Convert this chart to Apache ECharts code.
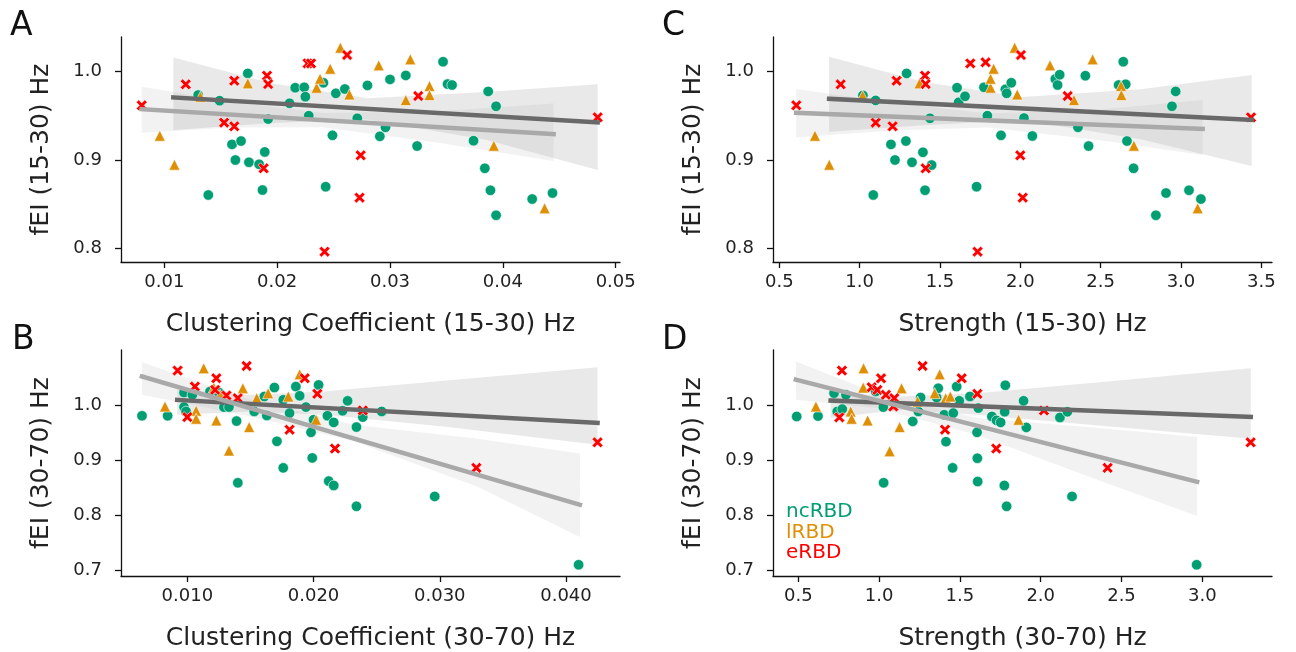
<!DOCTYPE html>
<html>
<head>
<meta charset="utf-8">
<script src="https://cdn.jsdelivr.net/npm/echarts@6/dist/echarts.min.js"></script>
<style>
html,body{margin:0;padding:0;background:#fff;}
#chart{width:1296px;height:652px;}
</style>
</head>
<body>
<div id="chart"></div>
<script>
// ---------- Data: Panel A (Clustering Coefficient 15-30 Hz vs fEI 15-30 Hz) ----------
const A_nc = [[0.0130,0.9736],[0.0149,0.9672],[0.0174,0.9981],[0.0192,0.9464],[0.0160,0.9177],[0.0168,0.9215],[0.0163,0.9000],[0.0175,0.8974],[0.0184,0.8951],[0.0189,0.9091],[0.0187,0.8660],[0.0139,0.8604],[0.0211,0.9642],[0.0216,0.9819],[0.0224,0.9823],[0.0225,0.9717],[0.0228,0.9502],[0.0241,0.9875],[0.0252,0.9755],[0.0260,0.9804],[0.0249,0.9279],[0.0243,0.8698],[0.0271,0.9472],[0.0280,0.9845],[0.0291,0.9268],[0.0296,0.9370],[0.0300,0.9913],[0.0314,0.9958],[0.0324,0.9158],[0.0347,1.0113],[0.0351,0.9860],[0.0355,0.9849],[0.0374,0.9219],[0.0387,0.9777],[0.0394,0.9608],[0.0384,0.8906],[0.0389,0.8657],[0.0394,0.8374],[0.0426,0.8558],[0.0444,0.8626]];
const A_l = [[0.0096,0.9275],[0.0109,0.8947],[0.0132,0.9717],[0.0174,0.9868],[0.0235,0.9819],[0.0238,0.9921],[0.0247,1.0034],[0.0256,1.0272],[0.0264,0.9743],[0.0290,1.0072],[0.0314,0.9679],[0.0318,1.0140],[0.0335,0.9838],[0.0335,0.9736],[0.0392,0.9162],[0.0437,0.8453]];
const A_e = [[0.0080,0.9619],[0.0119,0.9857],[0.0162,0.9898],[0.0153,0.9423],[0.0162,0.9381],[0.0191,0.9955],[0.0192,0.9860],[0.0188,0.8906],[0.0227,1.0094],[0.0230,1.0094],[0.0262,1.0189],[0.0274,0.9053],[0.0273,0.8574],[0.0242,0.7962],[0.0325,0.9725],[0.0484,0.9483]];
const A_lineDark = [[0.0108,0.9708],[0.0484,0.9426]];
const A_lineLight = [[0.0080,0.9576],[0.0445,0.9292]];
const A_bandDark = [[0.0108,0.934,1.016],[0.0195,0.9419,0.9869],[0.028,0.946,0.970],[0.0385,0.923,0.977],[0.0484,0.8887,0.9857]];
const A_bandLight = [[0.008,0.931,0.983],[0.016,0.9368,0.966],[0.024,0.9372,0.9532],[0.034,0.9202,0.9548],[0.0445,0.899,0.964]];

// ---------- Panel C (Strength 15-30 Hz vs fEI 15-30 Hz) ----------
const C_nc = [[1.0207,0.9732],[1.0996,0.9675],[1.2925,0.9981],[1.4378,0.9472],[1.195,0.9177],[1.288,0.9215],[1.220,0.9000],[1.326,0.8974],[1.448,0.8943],[1.394,0.9087],[1.407,0.8657],[1.085,0.8604],[1.606,0.9819],[1.616,0.9653],[1.656,0.9721],[1.774,0.9823],[1.795,0.9502],[1.907,0.9800],[1.915,0.9755],[1.944,0.9875],[1.880,0.9279],[1.728,0.8698],[2.023,0.9475],[2.075,0.9272],[2.218,0.9917],[2.232,0.9849],[2.245,0.9966],[2.359,0.9370],[2.405,0.9955],[2.425,0.9158],[2.641,1.0113],[2.612,0.9849],[2.656,0.9857],[2.664,0.9215],[2.705,0.8906],[2.944,0.9608],[2.967,0.9777],[2.844,0.8374],[2.907,0.8626],[3.050,0.8657],[3.124,0.8558]];
const C_l = [[0.722,0.9275],[0.811,0.8947],[1.019,0.9728],[1.373,0.9868],[1.815,0.9819],[1.815,0.9921],[1.834,1.0034],[1.965,1.0272],[1.981,0.9743],[2.185,1.0072],[2.334,0.9679],[2.450,1.0140],[2.627,0.9838],[2.629,0.9736],[2.707,0.9162],[3.104,0.8453]];
const C_e = [[0.606,0.9619],[0.882,0.9857],[1.230,0.9898],[1.100,0.9423],[1.205,0.9381],[1.407,0.9955],[1.411,0.9860],[1.411,0.8906],[1.689,1.0094],[1.784,1.0106],[2.004,1.0189],[2.000,0.9053],[2.015,0.8574],[1.734,0.7962],[2.295,0.9725],[3.436,0.9483]];
const C_lineDark = [[0.81,0.9693],[3.44,0.9454]];
const C_lineLight = [[0.605,0.9535],[3.135,0.9351]];
const C_bandDark = [[0.81,0.932,1.017],[1.40,0.9394,0.9884],[2.01,0.9454,0.9714],[2.75,0.9234,0.980],[3.44,0.8932,0.9963]];
const C_bandLight = [[0.605,0.9255,0.9805],[1.20,0.9335,0.9649],[1.80,0.9368,0.9528],[2.50,0.9223,0.9571],[3.135,0.9057,0.968]];

// ---------- Panel B (Clustering Coefficient 30-70 Hz vs fEI 30-70 Hz) ----------
const B_nc = [[0.00641,0.9813],[0.00844,0.9813],[0.00974,1.0235],[0.00974,0.9970],[0.0099,0.9892],[0.0104,1.0193],[0.0118,1.0253],[0.0125,1.0235],[0.0129,0.9970],[0.0133,0.9970],[0.0139,0.9717],[0.0140,0.8596],[0.0153,0.9892],[0.0161,1.0163],[0.0163,0.9819],[0.0169,1.0325],[0.0171,0.9349],[0.0176,1.0102],[0.0181,0.9861],[0.0176,0.8867],[0.0186,1.0343],[0.0189,1.0175],[0.0194,0.9970],[0.0198,0.9512],[0.0199,0.9048],[0.0200,0.9741],[0.0204,1.0373],[0.0211,0.9813],[0.0216,0.9693],[0.0212,0.8627],[0.0216,0.8548],[0.0223,0.9904],[0.0227,1.0084],[0.0234,0.9608],[0.0239,0.9789],[0.0234,0.8169],[0.0254,0.9892],[0.0296,0.8349],[0.0410,0.7108]];
const B_l = [[0.00823,0.9982],[0.0107,0.9904],[0.0107,0.9759],[0.0113,1.0675],[0.0121,1.0325],[0.0123,0.9729],[0.0133,0.9181],[0.0144,1.0313],[0.0149,0.9608],[0.0155,1.0133],[0.0164,1.0223],[0.0180,1.0163],[0.0189,1.0566],[0.0202,0.9741],[0.0126,1.0193]];
const B_e = [[0.00923,1.0633],[0.0100,0.9789],[0.0106,1.0343],[0.0123,1.0494],[0.0122,1.0283],[0.0131,1.0181],[0.0140,1.0133],[0.0147,1.0717],[0.0181,0.9560],[0.0193,1.0494],[0.0203,1.0211],[0.0217,0.9217],[0.0239,0.9910],[0.0329,0.8867],[0.0425,0.9331]];
const B_lineDark = [[0.0092,1.0101],[0.0425,0.9686]];
const B_lineLight = [[0.0064,1.0527],[0.0411,0.8199]];
const B_bandDark = [[0.0092,0.9832,1.0284],[0.015,0.9892,1.0193],[0.0208,0.9832,1.0253],[0.0303,0.962,1.0447],[0.0425,0.9289,1.0694]];
const B_bandLight = [[0.0064,1.0193,1.0785],[0.015,0.9801,1.0103],[0.0232,0.9349,0.9651],[0.033,0.8524,0.9394],[0.0411,0.7613,0.9127]];

// ---------- Panel D (Strength 30-70 Hz vs fEI 30-70 Hz) ----------
const D_nc = [[0.490,0.9801],[0.622,0.9807],[0.721,1.0223],[0.741,0.9892],[0.772,0.9934],[0.795,1.0193],[0.979,1.0253],[1.026,0.9970],[1.028,0.8596],[1.208,0.9711],[1.243,0.9892],[1.257,1.0145],[1.356,1.0145],[1.366,1.0313],[1.403,0.9831],[1.414,0.9343],[1.455,0.8867],[1.459,0.9861],[1.480,1.0343],[1.496,1.0084],[1.562,1.0163],[1.614,0.9952],[1.606,0.9512],[1.608,0.9042],[1.610,0.8620],[1.698,0.9801],[1.727,0.9729],[1.752,0.9693],[1.777,0.9886],[1.775,0.8548],[1.789,0.8169],[1.781,1.0367],[1.894,1.0084],[1.911,0.9602],[2.119,0.9783],[2.165,0.9886],[2.194,0.8349],[2.965,0.7108]];
const D_l = [[0.609,0.9982],[0.824,0.9892],[0.830,0.9759],[0.904,1.0675],[0.902,1.0325],[0.929,0.9729],[1.065,0.9169],[1.139,1.0313],[1.127,0.9608],[1.238,1.0072],[1.344,1.0223],[1.375,1.0566],[1.412,1.0133],[1.441,1.0163],[1.863,0.9741]];
const D_e = [[0.770,1.0633],[0.754,0.9783],[0.954,1.0331],[0.989,1.0283],[1.012,1.0494],[1.042,1.0193],[1.094,1.0133],[1.088,0.9982],[1.269,1.0717],[1.408,0.9560],[1.511,1.0494],[1.608,1.0211],[1.725,0.9217],[2.020,0.9910],[2.414,0.8867],[3.299,0.9331]];
const D_lineDark = [[0.70,1.0090],[3.30,0.9793]];
const D_lineLight = [[0.485,1.0470],[2.968,0.8615]];
const D_bandDark = [[0.70,0.9772,1.020],[1.129,0.9922,1.0163],[1.604,0.9832,1.0224],[2.429,0.962,1.0441],[3.30,0.9398,1.0676]];
const D_bandLight = [[0.485,1.0103,1.0796],[0.985,0.9953,1.0224],[1.604,0.947,0.9772],[2.325,0.868,0.9602],[2.968,0.7993,0.9429]];

// ---------- Tick labels ----------
const A_xTicks = ['0.01','0.02','0.03','0.04','0.05'];
const B_xTicks = ['0.010','0.020','0.030','0.040'];
const C_xTicks = ['0.5','1.0','1.5','2.0','2.5','3.0','3.5'];
const D_xTicks = ['0.5','1.0','1.5','2.0','2.5','3.0'];
const beta_yTicks = ['0.8','0.9','1.0'];
const gamma_yTicks = ['0.7','0.8','0.9','1.0'];

const groupNames = ['ncRBD','lRBD','eRBD'];
const groupColors = ['#029e73','#de8f05','#ff0000'];

// ---------- Layout ----------
const FONT = 'DejaVu Sans';
const panels = [
  {letter:'A', grid:{left:121, top:37, width:499, height:225}, xr:[0.006163,0.05038], yr:[0.7845,1.0393],
   xt:A_xTicks, yt:beta_yTicks, xName:'Clustering Coefficient (15-30) Hz', yName:'fEI (15-30) Hz',
   nc:A_nc, l:A_l, e:A_e, ld:A_lineDark, ll:A_lineLight, bd:A_bandDark, bl:A_bandLight},
  {letter:'C', grid:{left:773, top:37, width:499, height:225}, xr:[0.4608,3.5666], yr:[0.7845,1.0393],
   xt:C_xTicks, yt:beta_yTicks, xName:'Strength (15-30) Hz', yName:'fEI (15-30) Hz',
   nc:C_nc, l:C_l, e:C_e, ld:C_lineDark, ll:C_lineLight, bd:C_bandDark, bl:C_bandLight},
  {letter:'B', grid:{left:121, top:350, width:499, height:227}, xr:[0.004746,0.044279], yr:[0.6904,1.1007],
   xt:B_xTicks, yt:gamma_yTicks, xName:'Clustering Coefficient (30-70) Hz', yName:'fEI (30-70) Hz',
   nc:B_nc, l:B_l, e:B_e, ld:B_lineDark, ll:B_lineLight, bd:B_bandDark, bl:B_bandLight},
  {letter:'D', grid:{left:773, top:350, width:499, height:227}, xr:[0.3434,3.4313], yr:[0.6904,1.1007],
   xt:D_xTicks, yt:gamma_yTicks, xName:'Strength (30-70) Hz', yName:'fEI (30-70) Hz',
   nc:D_nc, l:D_l, e:D_e, ld:D_lineDark, ll:D_lineLight, bd:D_bandDark, bl:D_bandLight}
];

const X_PATH = 'path://M-5,-2.8 L-2.8,-5 L0,-2.2 L2.8,-5 L5,-2.8 L2.2,0 L5,2.8 L2.8,5 L0,2.2 L-2.8,5 L-5,2.8 L-2.2,0 Z';
const symbols = ['circle','triangle',X_PATH];
const symbolSizes = [10.5,11,11];

function fmtFrom(list){
  return function(v){
    for (const s of list){ if (Math.abs(Number(s)-v) < 1e-9) return s; }
    return '';
  };
}

const grids=[], xAxes=[], yAxes=[], series=[];
const axisLineStyle = {color:'#111', width:1.3};

panels.forEach((p, i) => {
  grids.push(Object.assign({containLabel:false}, p.grid));
  xAxes.push({
    type:'value', gridIndex:i, min:p.xr[0], max:p.xr[1],
    axisLine:{show:true, onZero:false, lineStyle:axisLineStyle},
    axisTick:{show:true, length:6, lineStyle:axisLineStyle, customValues:p.xt.map(Number)},
    axisLabel:{show:true, customValues:p.xt.map(Number), formatter:fmtFrom(p.xt), fontFamily:FONT, fontSize:18, color:'#222', margin:11},
    splitLine:{show:false},
    name:p.xName, nameLocation:'middle', nameGap:50,
    nameTextStyle:{fontFamily:FONT, fontSize:25, color:'#222'}
  });
  yAxes.push({
    type:'value', gridIndex:i, min:p.yr[0], max:p.yr[1],
    axisLine:{show:true, onZero:false, lineStyle:axisLineStyle},
    axisTick:{show:true, length:6, lineStyle:axisLineStyle, customValues:p.yt.map(Number)},
    axisLabel:{show:true, customValues:p.yt.map(Number), formatter:fmtFrom(p.yt), fontFamily:FONT, fontSize:18, color:'#222', margin:19},
    splitLine:{show:false},
    name:p.yName, nameLocation:'middle', nameGap:67,
    nameTextStyle:{fontFamily:FONT, fontSize:25, color:'#222'}
  });

  const bandSeries = (band, color) => ({
    type:'custom', xAxisIndex:i, yAxisIndex:i, silent:true, z:1, clip:false,
    data:[[band[0][0], band[0][1]]],
    renderItem:(params, api) => {
      const upper = band.map(b => api.coord([b[0], b[2]]));
      const lower = band.slice().reverse().map(b => api.coord([b[0], b[1]]));
      return {type:'polygon', shape:{points:upper.concat(lower)}, style:{fill:color}};
    }
  });
  series.push(bandSeries(p.bd, 'rgba(105,105,105,0.15)'));
  series.push(bandSeries(p.bl, 'rgba(169,169,169,0.15)'));

  [p.nc, p.l, p.e].forEach((d, g) => {
    series.push({
      type:'scatter', name:groupNames[g], xAxisIndex:i, yAxisIndex:i, z:2,
      data:d, symbol:symbols[g], symbolSize:symbolSizes[g],
      itemStyle:{color:groupColors[g], borderColor:'#ffffff', borderWidth:0.6, opacity:1}
    });
  });

  series.push({type:'line', xAxisIndex:i, yAxisIndex:i, z:3, data:p.ld, showSymbol:false, silent:true,
    lineStyle:{color:'#696969', width:4.5, cap:'square'}});
  series.push({type:'line', xAxisIndex:i, yAxisIndex:i, z:3, data:p.ll, showSymbol:false, silent:true,
    lineStyle:{color:'#a9a9a9', width:4.5, cap:'square'}});
});

const letterPos = {A:[10,26], C:[662,26], B:[12,340], D:[662,340]};
const graphics = panels.map(p => ({
  type:'text', x:letterPos[p.letter][0], y:letterPos[p.letter][1],
  style:{text:p.letter, font:'33px "DejaVu Sans"', fill:'#111', verticalAlign:'middle', align:'left'}
}));
const legendY = [512, 533, 553];
groupNames.forEach((n, g) => {
  graphics.push({type:'text', x:786, y:legendY[g],
    style:{text:n, font:'20px "DejaVu Sans"', fill:groupColors[g], verticalAlign:'middle', align:'left'}});
});

const chart = echarts.init(document.getElementById('chart'), null, {renderer:'canvas'});
chart.setOption({
  animation:false,
  backgroundColor:'#ffffff',
  grid:grids, xAxis:xAxes, yAxis:yAxes, series:series, graphic:graphics
});
</script>
</body>
</html>
